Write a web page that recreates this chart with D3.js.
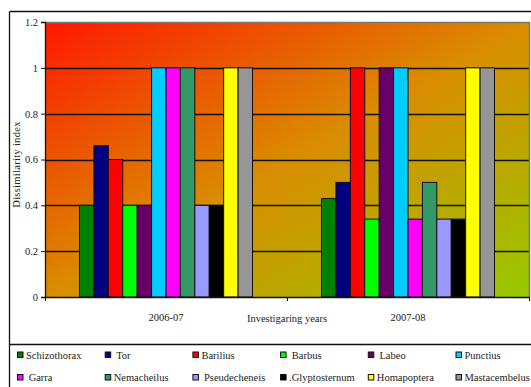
<!DOCTYPE html>
<html>
<head>
<meta charset="utf-8">
<script src="https://cdn.jsdelivr.net/npm/d3@7/dist/d3.min.js"></script>
<style>
  html, body { margin: 0; padding: 0; background: #fff; }
  svg { display: block; }
</style>
</head>
<body>
<svg id="chart" width="531" height="387"></svg>
<script>
// Investigation years on the x axis
const years = ["2006-07", "2007-08"];

// Fish genera, one bar per genus in each year
const genera = ["Schizothorax", "Tor", "Barilius", "Barbus", "Labeo", "Punctius",
                "Garra", "Nemacheilus", "Pseudecheneis", ".Glyptosternum", "Homapoptera", "Mastacembelus"];

// Dissimilarity index for each genus, per year
const values2006 = [0.40, 0.66, 0.60, 0.40, 0.40, 1.00, 1.00, 1.00, 0.40, 0.40, 1.00, 1.00];
const values2007 = [0.43, 0.50, 1.00, 0.34, 1.00, 1.00, 0.34, 0.50, 0.34, 0.34, 1.00, 1.00];

const colors = ["#008000", "#000080", "#ff0000", "#00ff00", "#660066", "#00ccff",
                "#ff00ff", "#339966", "#9999ff", "#000000", "#ffff00", "#969696"];

// Legend labels as printed (some carry a leading space)
const legendLabels = ["Schizothorax", " Tor", "Barilius", " Barbus", " Labeo", "Punctius",
                      " Garra", "Nemacheilus", " Pseudecheneis", ".Glyptosternum", "Homapoptera", "Mastacembelus"];

const yTicks = [0, 0.2, 0.4, 0.6, 0.8, 1, 1.2];

const series = [values2006, values2007];

const FONT = "'Liberation Serif', 'Times New Roman', Times, serif";
const FS = 10.5;

const svg = d3.select("#chart");
const plot = { left: 45, right: 529, top: 22, bottom: 297 };

// Outer frame lines
svg.append("line").attr("x1", 9.5).attr("x2", 531).attr("y1", 11.5).attr("y2", 11.5)
  .attr("stroke", "#111").attr("stroke-width", 1.3);
svg.append("line").attr("x1", 9.5).attr("x2", 9.5).attr("y1", 11.5).attr("y2", 387)
  .attr("stroke", "#111").attr("stroke-width", 1.3);
svg.append("line").attr("x1", 9.5).attr("x2", 531).attr("y1", 344.5).attr("y2", 344.5)
  .attr("stroke", "#111").attr("stroke-width", 1.3);

// Plot background gradient
const defs = svg.append("defs");
const grad = defs.append("linearGradient").attr("id", "bg")
  .attr("x1", 0).attr("y1", 0).attr("x2", 1).attr("y2", 1);
grad.append("stop").attr("offset", 0).attr("stop-color", "#ff1800");
grad.append("stop").attr("offset", 0.5).attr("stop-color", "#da8c00");
grad.append("stop").attr("offset", 1).attr("stop-color", "#98c800");

const x0 = d3.scaleBand().domain(years).range([plot.left, plot.right]).paddingInner(0).paddingOuter(0);
const x1 = d3.scaleBand().domain(d3.range(genera.length))
  .range([34.5, x0.bandwidth() - 34.5]).padding(0);
const y = d3.scaleLinear().domain([0, 1.2]).range([plot.bottom, plot.top]);

svg.append("rect")
  .attr("x", plot.left).attr("y", plot.top)
  .attr("width", plot.right - plot.left).attr("height", plot.bottom - plot.top)
  .attr("fill", "url(#bg)");

// Gridlines behind the bars
svg.append("g").selectAll("line").data(yTicks.filter(d => d > 0 && d < 1.2)).join("line")
  .attr("x1", plot.left).attr("x2", plot.right)
  .attr("y1", d => Math.round(y(d)) + 0.5).attr("y2", d => Math.round(y(d)) + 0.5)
  .attr("stroke", "#111").attr("stroke-width", 1.3);

// Plot border (top and right)
svg.append("polyline")
  .attr("points", `${plot.left},${plot.top + 0.5} ${plot.right + 0.5},${plot.top + 0.5} ${plot.right + 0.5},${plot.bottom}`)
  .attr("fill", "none").attr("stroke", "#777").attr("stroke-width", 1.5);

// Bars
const groups = svg.append("g").selectAll("g").data(years).join("g")
  .attr("transform", d => `translate(${x0(d)},0)`);
groups.selectAll("rect")
  .data((yr, i) => series[i].map((v, k) => ({ k, v })))
  .join("rect")
  .attr("x", d => x1(d.k))
  .attr("width", x1.bandwidth())
  .attr("y", d => y(d.v))
  .attr("height", d => y(0) - y(d.v))
  .attr("fill", d => colors[d.k])
  .attr("stroke", "#111").attr("stroke-width", 1);

// Y axis
const yAxis = svg.append("g").attr("transform", `translate(${plot.left},0)`)
  .call(d3.axisLeft(y).tickValues(yTicks).tickSize(4).tickPadding(3)
    .tickFormat(d => d3.format("")(+d.toFixed(1))));
yAxis.attr("font-family", FONT).attr("font-size", FS);
yAxis.select(".domain").attr("stroke", "#111").attr("stroke-width", 1.3);
yAxis.selectAll(".tick line").attr("stroke", "#111");
yAxis.selectAll("text").attr("fill", "#222");

// X axis with ticks at category boundaries
const xAxis = svg.append("g").attr("transform", `translate(0,${plot.bottom})`);
xAxis.append("line").attr("x1", plot.left).attr("x2", plot.right + 0.5)
  .attr("y1", 0.5).attr("y2", 0.5).attr("stroke", "#111").attr("stroke-width", 1.3);
xAxis.selectAll("line.tk").data([plot.left, x0(years[1]), plot.right]).join("line")
  .attr("class", "tk")
  .attr("x1", d => d + 0.5).attr("x2", d => d + 0.5).attr("y1", 0).attr("y2", 4)
  .attr("stroke", "#111");
xAxis.selectAll("text").data(years).join("text")
  .attr("x", d => x0(d) + x0.bandwidth() / 2).attr("y", 24)
  .attr("text-anchor", "middle").attr("font-family", FONT).attr("font-size", FS)
  .attr("fill", "#222").text(d => d);

// Axis titles
svg.append("text").attr("x", x0(years[1])).attr("y", 322)
  .attr("text-anchor", "middle").attr("font-family", FONT).attr("font-size", FS)
  .attr("fill", "#222").text("Investigaring years");
svg.append("text")
  .attr("transform", `translate(20,${(plot.top + plot.bottom) / 2 + 5}) rotate(-90)`)
  .attr("text-anchor", "middle").attr("font-family", FONT).attr("font-size", FS)
  .attr("letter-spacing", 0.3).attr("fill", "#222")
  .text("Dissimilarity index");

// Legend: six columns, two rows
const legend = svg.append("g");
const items = legend.selectAll("g").data(genera).join("g")
  .attr("transform", (d, i) => `translate(${17 + (i % 6) * 87.7},${i < 6 ? 355 : 377.5})`);
items.append("rect")
  .attr("x", 0.5).attr("y", -3).attr("width", 5.5).attr("height", 5.5)
  .attr("fill", (d, i) => colors[i]).attr("stroke", "#111").attr("stroke-width", 1);
items.append("text").attr("x", 9).attr("y", 3.5)
  .attr("font-family", FONT).attr("font-size", FS).attr("fill", "#222")
  .style("white-space", "pre")
  .text((d, i) => legendLabels[i]);
</script>
</body>
</html>
